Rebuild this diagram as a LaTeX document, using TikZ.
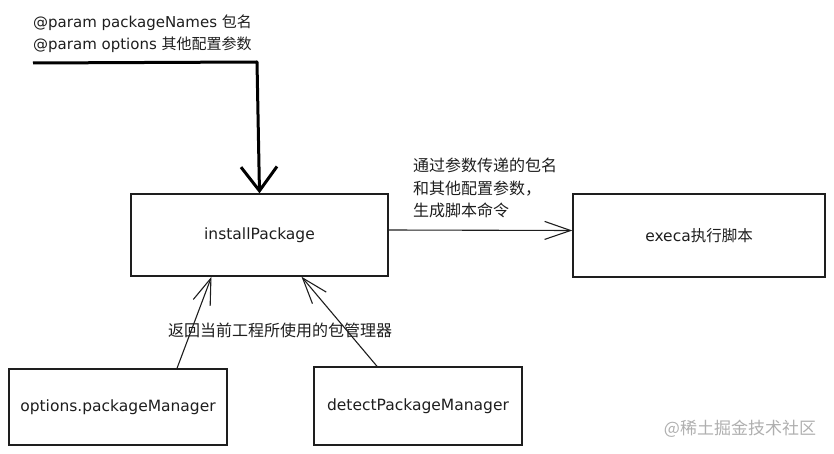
\documentclass[tikz,border=0pt]{standalone}
\usepackage{fontspec}
\setmainfont{DejaVu Sans}
\newfontfamily\cjk{Noto Sans CJK SC}
\usetikzlibrary{arrows.meta,calc}
\definecolor{ink}{RGB}{30,30,30}
\definecolor{wm}{RGB}{175,175,175}
\begin{document}
\begin{tikzpicture}[x=1pt,y=-1pt,
  box/.style={draw=ink, line width=1.4pt, inner sep=0pt, text=ink,
    font=\fontsize{15.5}{18}\selectfont},
  lat/.style={text=ink, inner sep=0pt, font=\fontsize{15}{22}\selectfont},
  zh/.style={text=ink, inner sep=0pt, font=\fontsize{16}{22.5}\selectfont\cjk},
  thin arrow/.style={draw=ink, line width=1.1pt,
    -{Straight Barb[length=26pt,width=18pt,line width=1.1pt]}},
  thick arrow/.style={draw=black, line width=3pt, line join=round,
    -{Straight Barb[length=24pt,width=36pt,line width=3pt]}}]
\useasboundingbox (0,0) rectangle (834,454);

% text top-left
\node[lat, anchor=west] (p1) at (33,23) {@param packageNames {\cjk 包名}};
\node[lat, anchor=west] (p2) at (33,45) {@param options {\cjk 其他配置参数}};

% boxes
\node[box, minimum width=257pt, minimum height=82pt] (ib) at (259.5,235) {installPackage};
\node[box, minimum width=252pt, minimum height=83pt] (ex) at (699,235.5) {execa{\cjk 执行脚本}};
\node[box, minimum width=218pt, minimum height=76pt] (opt) at (118,407) {options.packageManager};
\node[box, minimum width=208pt, minimum height=78pt] (det) at (418,406) {detectPackageManager};

% labels
\node[zh, anchor=west, align=left] (l1) at (413,188) {通过参数传递的包名\\和其他配置参数，\\生成脚本命令};
\node[zh] (l2) at (280,330) {返回当前工程所使用的包管理器};
\node[text=wm, inner sep=0pt, font=\fontsize{17}{19}\selectfont\cjk] (wmk) at (740,429) {@稀土掘金技术社区};

% connectors
\coordinate (start) at (33,63);
\coordinate (corner) at (257,62);
\draw[thick arrow] (start) -- (corner) -- (ib.north);
\draw[thin arrow] ([yshift=5pt]ib.east) -- ([yshift=5pt]ex.west);
\draw[thin arrow] ([xshift=59pt]opt.north) -- ([xshift=-48pt]ib.south);
\draw[thin arrow] ([xshift=-41pt]det.north) -- ([xshift=42pt]ib.south);
\end{tikzpicture}
\end{document}
